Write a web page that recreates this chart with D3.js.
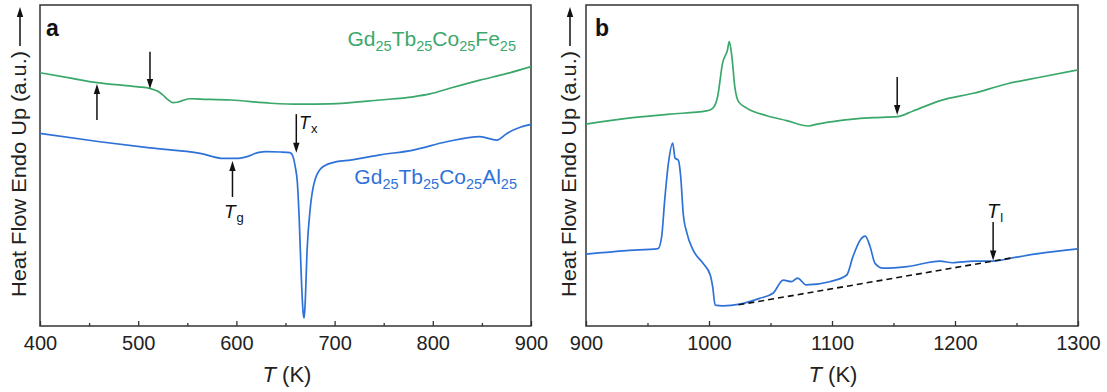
<!DOCTYPE html>
<html><head><meta charset="utf-8">
<script src="https://cdn.jsdelivr.net/npm/d3@7"></script>
<style>
body{margin:0;background:#fff}
svg{display:block}
text{font-family:"Liberation Sans",Arial,sans-serif}
</style>
</head><body>
<svg id="c" width="1107" height="392"></svg>
<script>
// ---------- data ----------
const ticksA = [400, 500, 600, 700, 800, 900];
const ticksB = [900, 1000, 1100, 1200, 1300];
const minorA = [450, 550, 650, 750, 850];
const minorB = [950, 1050, 1150, 1250];

// panel a, Gd25Tb25Co25Fe25
const tempA_Fe = [400, 430, 458, 480, 500, 512, 520, 525, 530, 535, 540, 545, 553, 563, 594, 635, 665, 695, 746, 780, 797, 820, 848, 875, 900];
const heatA_Fe = [78.9, 77.3, 75.8, 75.1, 74.5, 74.0, 73.1, 72.0, 70.6, 69.6, 69.7, 70.2, 70.8, 70.7, 70.4, 69.4, 69.1, 69.2, 70.4, 71.4, 72.3, 74.3, 76.6, 78.6, 80.8];

// panel a, Gd25Tb25Co25Al25
const tempA_Al = [400, 461, 512, 563, 587, 600, 610, 623, 630, 645, 654.6, 657.6, 660, 662, 664, 666, 668, 669, 670, 672, 675, 680, 688, 702, 716, 746, 780, 814, 848, 865, 875.5, 889, 900];
const heatA_Al = [60.0, 57.4, 55.5, 53.8, 52.2, 52.2, 52.7, 54.1, 54.3, 54.2, 54.0, 52.8, 49.5, 45.0, 33.0, 16.0, 4.0, 2.5, 7.0, 23.7, 36.1, 45.5, 49.6, 51.2, 51.7, 53.3, 54.8, 57.4, 59.0, 57.9, 60.0, 61.9, 62.8];

// panel b, Gd25Tb25Co25Fe25
const tempB_Fe = [900, 933, 968, 998, 1003, 1007, 1011, 1015, 1016.5, 1018.6, 1021, 1024, 1031, 1047, 1063, 1081, 1088, 1106, 1123, 1133, 1153, 1166, 1188, 1215, 1242, 1269, 1300];
const heatB_Fe = [62.9, 64.7, 66.0, 67.0, 67.8, 71.4, 81.8, 86.0, 88.6, 83.9, 74.5, 69.9, 67.8, 65.5, 64.0, 62.3, 62.9, 64.0, 64.7, 64.9, 65.2, 67.0, 70.2, 72.5, 75.4, 77.5, 79.8];

// panel b, Gd25Tb25Co25Al25
const tempB_Al = [900, 933, 958.5, 961.5, 964, 967, 970.5, 972.4, 975, 977, 979, 982, 987, 995, 1001, 1003, 1005, 1011, 1025, 1041, 1052, 1060.4, 1067, 1072, 1079, 1098, 1112, 1117, 1123, 1127, 1131, 1135, 1141.5, 1161, 1188, 1198, 1215, 1231, 1245, 1269, 1300];
const heatB_Al = [22.4, 23.5, 24.1, 27.8, 39.3, 50.7, 57.0, 52.3, 51.7, 46.5, 35.2, 29.0, 23.7, 19.6, 15.9, 12.2, 6.5, 6.3, 6.8, 8.6, 10.2, 14.3, 13.8, 14.9, 12.8, 13.8, 15.9, 21.6, 26.8, 28.0, 24.7, 19.5, 18.0, 18.5, 20.2, 19.7, 20.2, 20.2, 21.1, 22.6, 24.0];

// dashed baseline in panel b
const baseT = [1024, 1246];
const baseH = [6.6, 21.2];

// ---------- drawing ----------
const svg = d3.select('#c');
const GREEN = '#3ba86b', BLUE = '#2e72d8', FRAME = '#333';
const TOP = 5, BOTTOM = 326;

function makePanel(left, right, domain, ticks, minor) {
  const x = d3.scaleLinear().domain(domain).range([left, right]);
  const y = d3.scaleLinear().domain([0, 100]).range([BOTTOM, TOP]);
  const g = svg.append('g');
  g.append('g').attr('transform', `translate(0,${BOTTOM})`)
    .call(d3.axisBottom(x).tickValues(minor).tickSizeInner(-3).tickSizeOuter(0).tickFormat(''))
    .call(s => { s.select('.domain').remove(); s.selectAll('line').attr('stroke', FRAME).attr('stroke-width', 1.3); });
  g.append('g').attr('transform', `translate(0,${BOTTOM})`)
    .call(d3.axisBottom(x).tickValues(ticks).tickSizeInner(-5).tickSizeOuter(0).tickPadding(10).tickFormat(d3.format('d')))
    .call(s => {
      s.select('.domain').remove();
      s.selectAll('line').attr('stroke', FRAME).attr('stroke-width', 1.3);
      s.selectAll('text').attr('font-size', 20).attr('fill', '#222')
        .attr('font-family', '"Liberation Sans",Arial,sans-serif');
    });
  g.append('rect').attr('x', left).attr('y', TOP).attr('width', right - left).attr('height', BOTTOM - TOP)
    .attr('fill', 'none').attr('stroke', FRAME).attr('stroke-width', 1.5);
  return {x, y, g, left, right};
}

function curve(p, T, H, color, dash) {
  const data = T.map((t, i) => [t, H[i]]);
  p.g.append('path').datum(data)
    .attr('d', d3.line().x(d => p.x(d[0])).y(d => p.y(d[1])).curve(d3.curveMonotoneX))
    .attr('fill', 'none').attr('stroke', color).attr('stroke-width', dash ? 1.6 : 1.7)
    .attr('stroke-dasharray', dash || null);
}

function arrow(p, t, hTail, hTip) {
  const xx = p.x(t), y1 = p.y(hTail), y2 = p.y(hTip);
  const dir = y2 > y1 ? 1 : -1;
  p.g.append('line').attr('x1', xx).attr('x2', xx).attr('y1', y1).attr('y2', y2 - dir * 6)
    .attr('stroke', '#111').attr('stroke-width', 1.5);
  p.g.append('path')
    .attr('d', `M${xx},${y2} L${xx - 3.2},${y2 - dir * 10} L${xx + 3.2},${y2 - dir * 10} Z`)
    .attr('fill', '#111');
}

function formula(x, y, parts, color) {
  const t = svg.append('text').attr('x', x).attr('y', y).attr('text-anchor', 'end').attr('fill', color);
  parts.forEach((pt, i) => {
    t.append('tspan').attr('font-size', 21).attr('dy', i === 0 ? 0 : -5).text(pt[0]);
    t.append('tspan').attr('font-size', 14.5).attr('dy', 5).text(pt[1]);
  });
}

function tSym(x, y, sub, size, subSize, subDy) {
  const t = svg.append('text').attr('x', x).attr('y', y).attr('fill', '#111');
  t.append('tspan').attr('font-style', 'italic').attr('font-size', size).text('T');
  t.append('tspan').attr('font-size', subSize).attr('dx', 1).attr('dy', subDy).text(sub);
}

function yLabel(xBase, xArrow) {
  svg.append('text').attr('transform', `translate(${xBase},297) rotate(-90)`)
    .attr('font-size', 20).attr('fill', '#222')
    .attr('textLength', 246).attr('lengthAdjust', 'spacingAndGlyphs')
    .text('Heat Flow Endo Up (a.u.)');
  svg.append('line').attr('x1', xArrow).attr('x2', xArrow).attr('y1', 46).attr('y2', 16)
    .attr('stroke', '#111').attr('stroke-width', 1.5);
  svg.append('path').attr('d', `M${xArrow},7 L${xArrow - 3.2},17 L${xArrow + 3.2},17 Z`).attr('fill', '#111');
}

function xTitle(cx) {
  const t = svg.append('text').attr('x', cx).attr('y', 382).attr('text-anchor', 'middle')
    .attr('font-size', 22).attr('fill', '#222');
  t.append('tspan').attr('font-style', 'italic').text('T');
  t.append('tspan').text(' (K)');
}

// panel a
const pa = makePanel(40, 531, [400, 900], ticksA, minorA);
curve(pa, tempA_Fe, heatA_Fe, GREEN);
curve(pa, tempA_Al, heatA_Al, BLUE);
arrow(pa, 458, 64.2, 75.4);
arrow(pa, 512, 85.4, 73.8);
arrow(pa, 596, 40.2, 51.4);
arrow(pa, 661, 66.0, 54.0);
svg.append('text').attr('x', 46).attr('y', 36).attr('font-size', 23).attr('font-weight', 'bold').attr('fill', '#111').text('a');
formula(516, 46, [['Gd', '25'], ['Tb', '25'], ['Co', '25'], ['Fe', '25']], GREEN);
formula(517, 184, [['Gd', '25'], ['Tb', '25'], ['Co', '25'], ['Al', '25']], BLUE);
tSym(224, 218, 'g', 19, 13, 4);
tSym(299, 129, 'x', 18, 13, 4);
yLabel(26, 20);
xTitle(287);

// panel b
const pb = makePanel(586, 1078, [900, 1300], ticksB, minorB);
curve(pb, tempB_Fe, heatB_Fe, GREEN);
curve(pb, tempB_Al, heatB_Al, BLUE);
curve(pb, baseT, baseH, '#111', '6,4');
arrow(pb, 1153, 77.6, 65.7);
arrow(pb, 1231, 32.4, 20.4);
svg.append('text').attr('x', 595).attr('y', 36).attr('font-size', 23).attr('font-weight', 'bold').attr('fill', '#111').text('b');
tSym(987, 218, 'l', 20, 13, 4);
yLabel(576, 570);
xTitle(833);
</script>
</body></html>
